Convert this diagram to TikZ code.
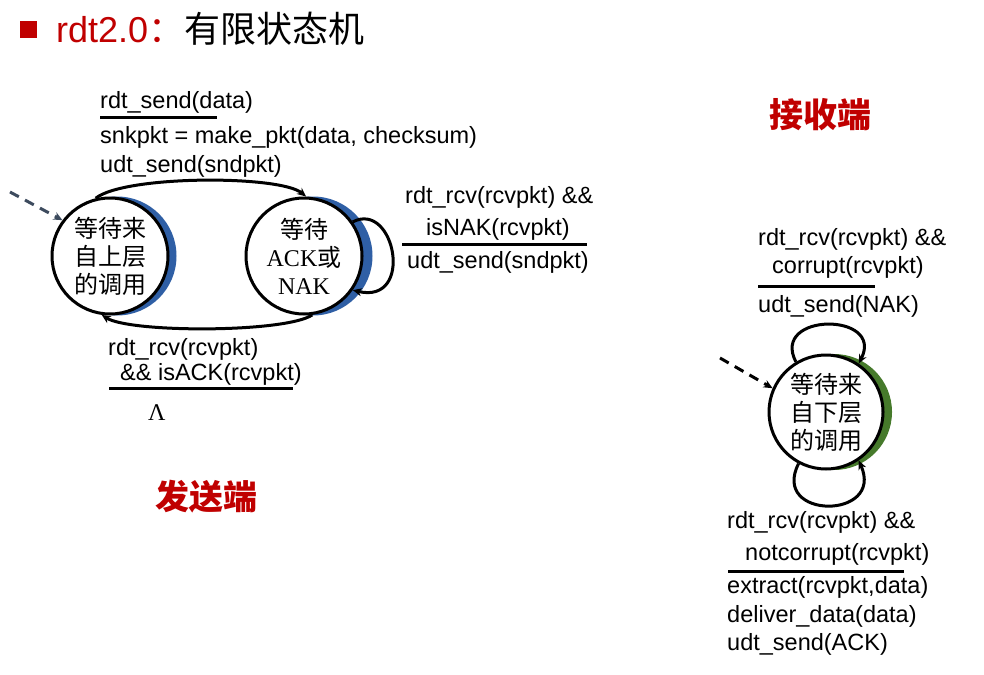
\documentclass[tikz,border=0pt]{standalone}
\usepackage{fontspec}
\setmainfont{Liberation Sans}
\newfontfamily\cjk{Noto Sans CJK SC}
\newfontfamily\tms{Liberation Serif}
\usetikzlibrary{arrows.meta}
\definecolor{titlered}{HTML}{C00000}
\definecolor{shblue}{HTML}{2F5FA5}
\definecolor{shgreen}{HTML}{467A2B}
\definecolor{dashgray}{HTML}{3D4B5E}
\begin{document}
\begin{tikzpicture}[x=1pt,y=-1pt,
  lbl/.style={anchor=base west, inner sep=0pt, font=\fontsize{23.5}{28}\selectfont},
  state/.style={circle, draw=black, line width=3pt, fill=white, minimum size=116pt, inner sep=0pt, align=center, font=\cjk\fontsize{24}{28}\selectfont},
  edge/.style={line width=3pt, -{Stealth[length=9pt,width=8pt]}},
  initedge/.style={line width=3pt, dash pattern=on 10pt off 7pt, -{Stealth[length=9pt,width=8pt]}},
  rule/.style={line width=3pt},
  side/.style={text=titlered, font=\cjk\bfseries\fontsize{34}{36}\selectfont, inner sep=0pt}]
\useasboundingbox (0,0) rectangle (984,674);
% title
\fill[titlered] (20,21) rectangle (37,38);
\node[anchor=base west, inner sep=0pt, font=\fontsize{36}{40}\selectfont] (title) at (56,43) {\textcolor{titlered}{rdt2.0{\cjk ：}}{\cjk 有限状态机}};
% sender states
\fill[shblue] (117,256) circle[radius=59.5pt];
\node[state] (s1) at (110,256) {等待来\\自上层\\的调用};
\fill[shblue] (313,256) circle[radius=59.5pt];
\node[state] (s2) at (304,256) {等待\\{\tms ACK}或\\{\tms NAK}};
% receiver state
\fill[shgreen] (834,412) circle[radius=58pt];
\node[state, minimum size=114pt] (r1) at (826,412) {等待来\\自下层\\的调用};
% sender edges
\coordinate (d1) at (10,192);
\draw[initedge, dashgray] (d1) -- (s1.143);
\draw[edge] (s1.104) .. controls (125,175) and (280,175) .. (s2.88);
\draw[edge] (s2.278) .. controls (285,333) and (130,333) .. (s1.262);
\draw[edge] (s2.35) .. controls (395,200) and (415,305) .. (s2.-35);
% receiver edges
\coordinate (d2) at (720,358);
\draw[initedge] (d2) -- (r1.156);
\draw[edge] (r1.121) .. controls (770,312) and (885,312) .. (r1.56);
\draw[edge] (r1.242) .. controls (770,520) and (885,520) .. (r1.304);
% sender labels
\node[lbl] (a1) at (100,109) {rdt\_send(data)};
\draw[rule] (100,118) -- (217,118);
\node[lbl] (a2) at (100,143) {snkpkt = make\_pkt(data, checksum)};
\node[lbl] (a3) at (100,172) {udt\_send(sndpkt)};
\node[lbl] (b1) at (405,203) {rdt\_rcv(rcvpkt) \&\&};
\node[lbl] (b2) at (426,235) {isNAK(rcvpkt)};
\draw[rule] (402,244) -- (587,244);
\node[lbl] (b3) at (407,268) {udt\_send(sndpkt)};
\node[lbl] (c1) at (108,355) {rdt\_rcv(rcvpkt)};
\node[lbl] (c2) at (120,380) {\&\& isACK(rcvpkt)};
\draw[rule] (109,388) -- (293,388);
\node[lbl, font=\tms\fontsize{24}{28}\selectfont] (c3) at (148,420) {Λ};
\node[side] (send) at (206,497) {发送端};
\node[side] (recv) at (820,115) {接收端};
% receiver labels
\node[lbl] (e1) at (758,245) {rdt\_rcv(rcvpkt) \&\&};
\node[lbl] (e2) at (772,273) {corrupt(rcvpkt)};
\draw[rule] (758,286) -- (875,286);
\node[lbl] (e3) at (758,312) {udt\_send(NAK)};
\node[lbl] (f1) at (727,528) {rdt\_rcv(rcvpkt) \&\&};
\node[lbl] (f2) at (745,560) {notcorrupt(rcvpkt)};
\draw[rule] (728,571) -- (904,571);
\node[lbl] (f3) at (727,593) {extract(rcvpkt,data)};
\node[lbl] (f4) at (727,622) {deliver\_data(data)};
\node[lbl] (f5) at (727,650) {udt\_send(ACK)};
\end{tikzpicture}
\end{document}
